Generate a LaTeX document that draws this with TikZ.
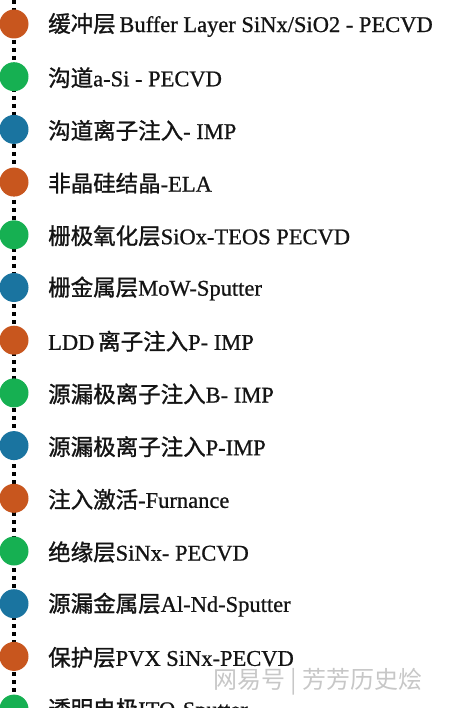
\documentclass[tikz,border=0pt]{standalone}
\usepackage{fontspec}
\setmainfont[RawFeature={embolden=0.8}]{Liberation Serif}
\newfontfamily\cjk[RawFeature={embolden=1.2}]{Noto Sans CJK SC}
\newfontfamily\wmfont{Noto Sans CJK SC}
\definecolor{cor}{RGB}{200,86,30}
\definecolor{cgr}{RGB}{22,176,82}
\definecolor{cbl}{RGB}{26,116,160}
\begin{document}
\begin{tikzpicture}[x=1pt,y=-1pt,
  dot/.style={circle,minimum size=29pt,inner sep=0pt,fill=#1},
  lbl/.style={anchor=west,inner sep=0pt,font=\fontsize{22.5}{24}\selectfont,text=black!92},
  dotline/.style={line width=4pt,dash pattern=on 4pt off 4pt,black}]
\useasboundingbox (0,0) rectangle (453,708);
\clip (0,0) rectangle (453,708);
\coordinate (top) at (14,0);
\foreach \i in {1,...,14}{\coordinate (p\i) at (14,{24+52.7*(\i-1)});}
\draw[dotline] (top) -- (p14);
\foreach \i/\c/\t in {
 1/cor/{{\cjk 缓冲层}\,Buffer Layer SiNx/SiO2 - PECVD},
 2/cgr/{{\cjk 沟道}a-Si - PECVD},
 3/cbl/{{\cjk 沟道离子注入}- IMP},
 4/cor/{{\cjk 非晶硅结晶}-ELA},
 5/cgr/{{\cjk 栅极氧化层}SiOx-TEOS PECVD},
 6/cbl/{{\cjk 栅金属层}MoW-Sputter},
 7/cor/{LDD\,{\cjk 离子注入}P- IMP},
 8/cgr/{{\cjk 源漏极离子注入}B- IMP},
 9/cbl/{{\cjk 源漏极离子注入}P-IMP},
 10/cor/{{\cjk 注入激活}-Furnance},
 11/cgr/{{\cjk 绝缘层}SiNx- PECVD},
 12/cbl/{{\cjk 源漏金属层}Al-Nd-Sputter},
 13/cor/{{\cjk 保护层}PVX SiNx-PECVD},
 14/cgr/{{\cjk 透明电极}ITO-Sputter}}{
  \node[dot=\c] (c\i) at (p\i) {};
  \node[lbl] (t\i) at ([xshift=34pt,yshift=-1pt]p\i) {\t};
}
\node[anchor=west,inner sep=0pt,text=black!22,font=\wmfont\fontsize{24}{26}\selectfont] (wm) at (213,682) {网易号 | 芳芳历史烩};
\end{tikzpicture}
\end{document}
